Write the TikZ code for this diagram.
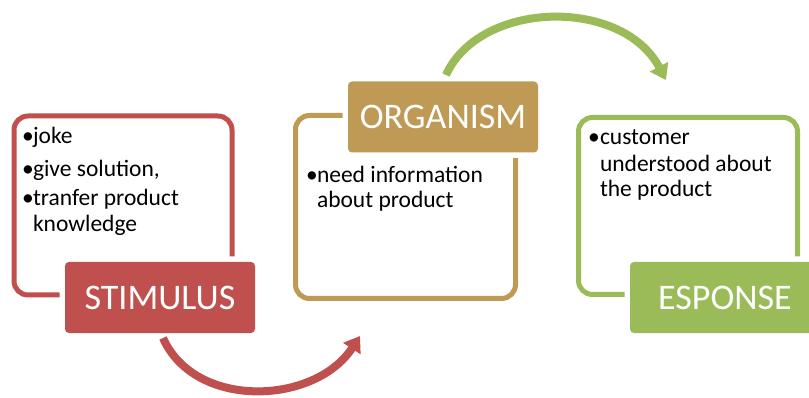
\documentclass[tikz,border=0pt]{standalone}
\usepackage{fontspec}
\setmainfont{Carlito}
\usetikzlibrary{arrows.meta}
\definecolor{cred}{HTML}{C0504D}
\definecolor{cgold}{HTML}{BE9A55}
\definecolor{cgreen}{HTML}{9BBB59}
\begin{document}
\begin{tikzpicture}[x=1pt,y=-1pt,
  frame/.style={draw=#1, line width=5pt, rounded corners=14pt, inner sep=0pt, outer sep=0pt},
  labelbox/.style={fill=#1, rounded corners=4pt, inner sep=0pt, outer sep=0pt,
    preaction={draw=white, line width=11pt, fill=white},
    text=white, font=\fontsize{36}{40}\selectfont,
    minimum width=190pt, minimum height=71pt},
  btext/.style={anchor=base west, inner sep=0pt, outer sep=0pt, font=\fontsize{23.5}{26}\selectfont},
  bigarrow/.style={draw=#1, line width=8pt, -{Triangle[width=20pt,length=15pt]}, fill=none}
]
\clip (0,0) rectangle (809,398);
\fill[white] (0,0) rectangle (809,398);

% outline frames
\node[frame=cred, minimum width=218pt, minimum height=179pt] (sframe) at (123,205.5) {};
\node[frame=cgold, minimum width=220pt, minimum height=183pt] (oframe) at (405.5,207) {};
\node[frame=cgreen, minimum width=219pt, minimum height=177pt] (rframe) at (688,206) {};

% label boxes
\node[labelbox=cred] (stim) at (160,297.5) {STIMULUS};
\node[labelbox=cgold] (org) at (443,117) {ORGANISM};
\node[labelbox=cgreen] (resp) at (725,297.5) {ESPONSE};

% stimulus text
\node[btext] (sb1) at (22,144) {•};
\node[btext] (st1) at (33,144) {joke};
\node[btext] (sb2) at (22,177) {•};
\node[btext] (st2) at (33,177) {give solution,};
\node[btext] (sb3) at (22,206) {•};
\node[btext] (st3) at (33,206) {tranfer product};
\node[btext] (st4) at (33,232) {knowledge};

% organism text
\node[btext] (ob1) at (306,183) {•};
\node[btext] (ot1) at (317,183) {need information};
\node[btext] (ot2) at (317,208) {about product};

% response text
\node[btext] (rb1) at (588,145) {•};
\node[btext] (rt1) at (600,145) {customer};
\node[btext] (rt2) at (600,172) {understood about};
\node[btext] (rt3) at (600,197) {the product};

% arrows
\coordinate (a1s) at (163,338);
\coordinate (a1e) at (360,336);
\coordinate (a2s) at (446,75);
\coordinate (a2e) at (666,80);
\draw[bigarrow=cred] (a1s) .. controls (195,410) and (315,405) .. (a1e);
\draw[bigarrow=cgreen] (a2s) .. controls (480,0) and (622,-3) .. (a2e);
\end{tikzpicture}
\end{document}
